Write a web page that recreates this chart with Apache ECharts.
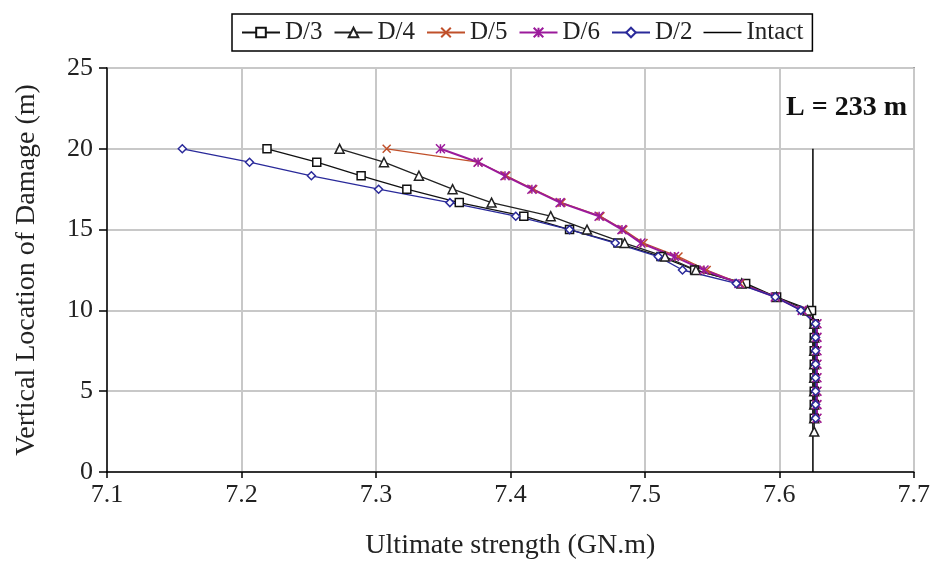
<!DOCTYPE html>
<html>
<head>
<meta charset="utf-8">
<script src="https://cdn.jsdelivr.net/npm/echarts@6/dist/echarts.min.js"></script>
<style>html,body{margin:0;padding:0;background:#fff}#c{width:933px;height:565px}</style>
</head>
<body>
<div id="c"></div>
<script>
// Vertical damage locations (m), top to bottom
const levels = [20, 19.17, 18.33, 17.5, 16.67, 15.83, 15, 14.17, 13.33, 12.5, 11.67, 10.83, 10, 9.17, 8.33, 7.5, 6.67, 5.83, 5, 4.17, 3.33, 2.5];
// Ultimate strength (GN.m) at each level
const d3 = [7.219, 7.256, 7.289, 7.323, 7.362, 7.410, 7.444, 7.480, 7.512, 7.537, 7.575, 7.598, 7.624, 7.626, 7.626, 7.626, 7.626, 7.626, 7.626, 7.626, 7.626];
const d4 = [7.273, 7.306, 7.332, 7.357, 7.386, 7.430, 7.457, 7.485, 7.515, 7.538, 7.572, 7.598, 7.621, 7.626, 7.626, 7.626, 7.626, 7.626, 7.626, 7.626, 7.626, 7.626];
const d5 = [7.308, 7.376, 7.397, 7.417, 7.438, 7.467, 7.484, 7.499, 7.525, 7.546, 7.571, 7.597, 7.617, 7.628, 7.628, 7.628, 7.628, 7.628, 7.628, 7.628, 7.628];
const d6 = [7.348, 7.376, 7.396, 7.416, 7.437, 7.466, 7.483, 7.497, 7.522, 7.544, 7.570, 7.597, 7.617, 7.628, 7.628, 7.628, 7.628, 7.628, 7.628, 7.628, 7.628];
const d2 = [7.156, 7.206, 7.252, 7.302, 7.355, 7.404, 7.444, 7.478, 7.510, 7.528, 7.568, 7.597, 7.616, 7.627, 7.627, 7.627, 7.627, 7.627, 7.627, 7.627, 7.627];
const intactX = [7.625, 7.625];
const intactY = [0, 20];
const xTicks = [7.1, 7.2, 7.3, 7.4, 7.5, 7.6, 7.7];
const yTicks = [0, 5, 10, 15, 20, 25];

const FONT = "'Liberation Serif', 'Times New Roman', serif";
const pair = (xs, ys) => xs.map((x, i) => [x, ys[i]]);

function mk(name, xs, color, symbol, size, fill, lw) {
  return {
    name, type: 'line', data: pair(xs, levels),
    symbol, symbolSize: size, showSymbol: true,
    lineStyle: { color, width: lw || 1.3 },
    itemStyle: { color: fill, borderColor: color, borderWidth: 1.5 },
    emphasis: { disabled: true }, animation: false
  };
}

const chart = echarts.init(document.getElementById('c'));
chart.setOption({
  animation: false,
  backgroundColor: '#fff',
  textStyle: { fontFamily: FONT },
  title: {
    text: 'L = 233 m', left: 781, top: 89,
    textStyle: { fontFamily: FONT, fontWeight: 'bold', fontSize: 28, color: '#111' }
  },
  legend: {
    left: 232, top: 14,
    padding: [6, 9, 6, 9],
    borderColor: '#000', borderWidth: 1.5,
    itemWidth: 38, itemHeight: 12, itemGap: 11,
    textStyle: { fontFamily: FONT, fontSize: 25, color: '#222' },
    data: ['D/3', 'D/4', 'D/5', 'D/6', 'D/2',
      { name: 'Intact', icon: 'path://M0,0L40,0L40,1.6L0,1.6Z' }]
  },
  grid: {
    left: 107, right: 18, top: 68, bottom: 87,
    show: true, borderColor: '#000', borderWidth: 1.5, backgroundColor: 'transparent'
  },
  xAxis: {
    type: 'value', min: xTicks[0], max: xTicks[xTicks.length - 1], interval: 0.1,
    name: 'Ultimate strength (GN.m)', nameLocation: 'middle', nameGap: 60,
    nameTextStyle: { fontFamily: FONT, fontSize: 28, color: '#222' },
    axisLine: { show: true, lineStyle: { color: '#000', width: 1.5 } },
    axisTick: { show: true, length: 6, lineStyle: { color: '#000', width: 1.5 } },
    axisLabel: { fontFamily: FONT, fontSize: 26, color: '#222', margin: 10, formatter: v => v.toFixed(1) },
    splitLine: { show: true, lineStyle: { color: '#c8c8c8', width: 2 } }
  },
  yAxis: {
    type: 'value', min: yTicks[0], max: yTicks[yTicks.length - 1], interval: 5,
    name: 'Vertical Location of Damage (m)', nameLocation: 'middle', nameGap: 66,
    nameTextStyle: { fontFamily: FONT, fontSize: 28, color: '#222' },
    axisLine: { show: true, lineStyle: { color: '#000', width: 1.5 } },
    axisTick: { show: true, length: 8, lineStyle: { color: '#000', width: 1.5 } },
    axisLabel: { fontFamily: FONT, fontSize: 26, color: '#222', margin: 14 },
    splitLine: { show: true, lineStyle: { color: '#c8c8c8', width: 2 } }
  },
  series: [
    mk('D/3', d3, '#111', 'rect', 8, '#fff'),
    mk('D/4', d4, '#222', 'triangle', 9, '#fff'),
    mk('D/5', d5, '#c0502a', 'path://M0,0L10,10M10,0L0,10', 8, '#c0502a'),
    mk('D/6', d6, '#9b1a9b', 'path://M0,0L10,10M10,0L0,10M5,0L5,10', 9, '#9b1a9b', 2),
    mk('D/2', d2, '#2a2a9a', 'diamond', 8, '#fff'),
    {
      name: 'Intact', type: 'line', data: pair(intactX, intactY), symbol: 'none',
      lineStyle: { color: '#000', width: 1.5 }, itemStyle: { color: '#000' },
      emphasis: { disabled: true }, animation: false
    }
  ]
});
</script>
</body>
</html>
